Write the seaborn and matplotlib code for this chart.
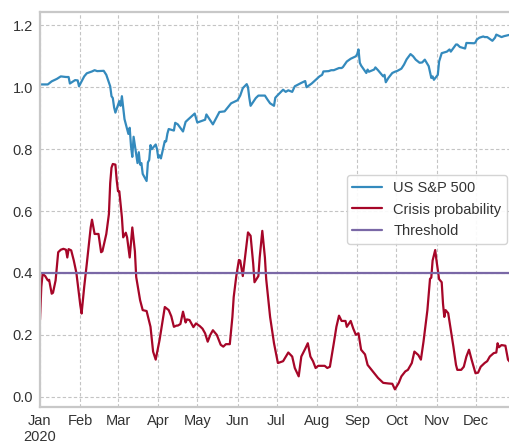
import pandas as pd
import numpy as np
import matplotlib
matplotlib.use("Agg")
import matplotlib.pyplot as plt
import matplotlib.dates as mdates
import seaborn as sns

# ---------------- data ----------------
sp_dates = [
    "2020-01-02", "2020-01-07", "2020-01-10", "2020-01-14", "2020-01-17", "2020-01-21",
    "2020-01-23", "2020-01-24", "2020-01-28", "2020-01-30", "2020-01-31", "2020-02-04",
    "2020-02-06", "2020-02-10", "2020-02-12", "2020-02-14", "2020-02-19", "2020-02-21",
    "2020-02-24", "2020-02-25", "2020-02-26", "2020-02-27", "2020-02-28", "2020-03-02",
    "2020-03-03", "2020-03-04", "2020-03-05", "2020-03-06", "2020-03-09", "2020-03-10",
    "2020-03-11", "2020-03-12", "2020-03-13", "2020-03-16", "2020-03-17", "2020-03-18",
    "2020-03-19", "2020-03-20", "2020-03-23", "2020-03-24", "2020-03-25", "2020-03-26",
    "2020-03-27", "2020-03-30", "2020-03-31", "2020-04-01", "2020-04-02", "2020-04-03",
    "2020-04-06", "2020-04-07", "2020-04-08", "2020-04-09", "2020-04-13", "2020-04-14",
    "2020-04-16", "2020-04-20", "2020-04-22", "2020-04-24", "2020-04-29", "2020-05-01",
    "2020-05-07", "2020-05-08", "2020-05-13", "2020-05-18", "2020-05-22", "2020-05-27",
    "2020-06-01", "2020-06-03", "2020-06-05", "2020-06-08", "2020-06-09", "2020-06-10",
    "2020-06-11", "2020-06-15", "2020-06-17", "2020-06-22", "2020-06-24", "2020-06-26",
    "2020-06-29", "2020-06-30", "2020-07-02", "2020-07-06", "2020-07-08", "2020-07-10",
    "2020-07-13", "2020-07-15", "2020-07-20", "2020-07-23", "2020-07-24", "2020-07-28",
    "2020-08-03", "2020-08-05", "2020-08-06", "2020-08-10", "2020-08-12", "2020-08-14",
    "2020-08-18", "2020-08-20", "2020-08-21", "2020-08-24", "2020-08-27", "2020-08-31",
    "2020-09-01", "2020-09-02", "2020-09-03", "2020-09-04", "2020-09-08", "2020-09-09",
    "2020-09-10", "2020-09-14", "2020-09-15", "2020-09-17", "2020-09-21", "2020-09-22",
    "2020-09-23", "2020-09-25", "2020-09-28", "2020-09-30", "2020-10-02", "2020-10-05",
    "2020-10-07", "2020-10-09", "2020-10-12", "2020-10-14", "2020-10-16", "2020-10-19",
    "2020-10-21", "2020-10-23", "2020-10-26", "2020-10-28", "2020-10-29", "2020-10-30",
    "2020-11-02", "2020-11-03", "2020-11-05", "2020-11-09", "2020-11-11", "2020-11-12",
    "2020-11-16", "2020-11-17", "2020-11-19", "2020-11-23", "2020-11-24", "2020-11-30",
    "2020-12-01", "2020-12-02", "2020-12-04", "2020-12-07", "2020-12-08", "2020-12-10",
    "2020-12-14", "2020-12-16", "2020-12-17", "2020-12-21", "2020-12-23", "2020-12-28",
    "2020-12-31",
]
sp_values = [
    1.009, 1.009, 1.019, 1.027, 1.035, 1.033,
    1.033, 1.012, 1.023, 1.022, 1.003, 1.035,
    1.045, 1.051, 1.055, 1.052, 1.053, 1.040,
    1.003, 0.971, 0.965, 0.935, 0.918, 0.955,
    0.940, 0.971, 0.934, 0.897, 0.849, 0.869,
    0.810, 0.775, 0.840, 0.755, 0.790, 0.750,
    0.755, 0.720, 0.697, 0.757, 0.765, 0.813,
    0.800, 0.815, 0.800, 0.772, 0.780, 0.770,
    0.826, 0.825, 0.850, 0.865, 0.860, 0.885,
    0.880, 0.857, 0.888, 0.896, 0.915, 0.886,
    0.895, 0.912, 0.880, 0.920, 0.922, 0.948,
    0.958, 0.973, 0.997, 1.010, 1.000, 0.966,
    0.940, 0.965, 0.973, 0.973, 0.960, 0.948,
    0.940, 0.966, 0.975, 0.992, 0.985, 0.990,
    0.985, 1.003, 1.014, 1.020, 1.000, 1.012,
    1.035, 1.040, 1.051, 1.052, 1.055, 1.055,
    1.062, 1.062, 1.065, 1.083, 1.092, 1.100,
    1.107, 1.122, 1.079, 1.070, 1.046, 1.057,
    1.050, 1.057, 1.064, 1.055, 1.035, 1.040,
    1.016, 1.030, 1.046, 1.050, 1.053, 1.060,
    1.073, 1.090, 1.107, 1.100, 1.089, 1.079,
    1.080, 1.089, 1.068, 1.030, 1.035, 1.024,
    1.040, 1.083, 1.110, 1.115, 1.122, 1.115,
    1.138, 1.138, 1.130, 1.125, 1.143, 1.142,
    1.145, 1.154, 1.160, 1.164, 1.162, 1.162,
    1.150, 1.160, 1.170, 1.162, 1.165, 1.170,
    1.172,
]

crisis_dates = [
    "2020-01-01", "2020-01-02", "2020-01-03", "2020-01-05", "2020-01-07", "2020-01-08",
    "2020-01-10", "2020-01-11", "2020-01-13", "2020-01-15", "2020-01-17", "2020-01-19",
    "2020-01-21", "2020-01-22", "2020-01-23", "2020-01-25", "2020-01-27", "2020-01-29",
    "2020-02-01", "2020-02-02", "2020-02-04", "2020-02-06", "2020-02-09", "2020-02-10",
    "2020-02-12", "2020-02-15", "2020-02-17", "2020-02-18", "2020-02-21", "2020-02-23",
    "2020-02-24", "2020-02-25", "2020-02-26", "2020-02-28", "2020-02-29", "2020-03-01",
    "2020-03-02", "2020-03-04", "2020-03-05", "2020-03-07", "2020-03-08", "2020-03-10",
    "2020-03-12", "2020-03-14", "2020-03-15", "2020-03-18", "2020-03-20", "2020-03-23",
    "2020-03-26", "2020-03-28", "2020-03-30", "2020-04-02", "2020-04-06", "2020-04-09",
    "2020-04-11", "2020-04-13", "2020-04-15", "2020-04-16", "2020-04-18", "2020-04-20",
    "2020-04-22", "2020-04-23", "2020-04-25", "2020-04-28", "2020-04-30", "2020-05-03",
    "2020-05-05", "2020-05-07", "2020-05-09", "2020-05-11", "2020-05-13", "2020-05-16",
    "2020-05-19", "2020-05-21", "2020-05-23", "2020-05-26", "2020-05-28", "2020-05-29",
    "2020-05-31", "2020-06-02", "2020-06-03", "2020-06-05", "2020-06-07", "2020-06-09",
    "2020-06-11", "2020-06-13", "2020-06-14", "2020-06-17", "2020-06-18", "2020-06-20",
    "2020-06-22", "2020-06-23", "2020-06-26", "2020-06-29", "2020-07-02", "2020-07-06",
    "2020-07-10", "2020-07-13", "2020-07-15", "2020-07-18", "2020-07-20", "2020-07-23",
    "2020-07-25", "2020-07-27", "2020-07-29", "2020-07-31", "2020-08-02", "2020-08-05",
    "2020-08-07", "2020-08-09", "2020-08-11", "2020-08-14", "2020-08-16", "2020-08-18",
    "2020-08-20", "2020-08-23", "2020-08-24", "2020-08-27", "2020-08-29", "2020-08-31",
    "2020-09-02", "2020-09-04", "2020-09-07", "2020-09-09", "2020-09-13", "2020-09-17",
    "2020-09-21", "2020-09-25", "2020-09-28", "2020-09-30", "2020-10-03", "2020-10-05",
    "2020-10-08", "2020-10-10", "2020-10-13", "2020-10-15", "2020-10-18", "2020-10-20",
    "2020-10-22", "2020-10-25", "2020-10-27", "2020-10-28", "2020-10-29", "2020-10-31",
    "2020-11-01", "2020-11-03", "2020-11-05", "2020-11-06", "2020-11-07", "2020-11-08",
    "2020-11-10", "2020-11-12", "2020-11-14", "2020-11-16", "2020-11-17", "2020-11-20",
    "2020-11-22", "2020-11-24", "2020-11-26", "2020-11-28", "2020-12-01", "2020-12-03",
    "2020-12-05", "2020-12-08", "2020-12-10", "2020-12-12", "2020-12-15", "2020-12-17",
    "2020-12-18", "2020-12-19", "2020-12-21", "2020-12-24", "2020-12-26", "2020-12-28",
]
crisis_values = [
    0.248, 0.355, 0.397, 0.390, 0.376, 0.378,
    0.333, 0.336, 0.376, 0.467, 0.475, 0.478,
    0.475, 0.450, 0.477, 0.473, 0.440, 0.400,
    0.296, 0.269, 0.355, 0.430, 0.547, 0.572,
    0.526, 0.526, 0.467, 0.470, 0.526, 0.590,
    0.690, 0.740, 0.752, 0.750, 0.700, 0.664,
    0.664, 0.580, 0.515, 0.530, 0.515, 0.450,
    0.547, 0.470, 0.387, 0.312, 0.280, 0.277,
    0.226, 0.146, 0.120, 0.184, 0.290, 0.280,
    0.260, 0.226, 0.230, 0.230, 0.235, 0.275,
    0.240, 0.250, 0.248, 0.225, 0.237, 0.228,
    0.220, 0.205, 0.178, 0.200, 0.215, 0.200,
    0.168, 0.162, 0.170, 0.170, 0.258, 0.322,
    0.390, 0.442, 0.440, 0.390, 0.460, 0.531,
    0.520, 0.430, 0.370, 0.390, 0.450, 0.536,
    0.450, 0.380, 0.258, 0.173, 0.109, 0.115,
    0.143, 0.130, 0.093, 0.066, 0.130, 0.155,
    0.173, 0.130, 0.115, 0.093, 0.100, 0.100,
    0.100, 0.093, 0.097, 0.173, 0.226, 0.262,
    0.245, 0.245, 0.226, 0.245, 0.220, 0.200,
    0.205, 0.152, 0.137, 0.103, 0.082, 0.061,
    0.045, 0.043, 0.042, 0.024, 0.045, 0.066,
    0.082, 0.087, 0.109, 0.146, 0.135, 0.120,
    0.178, 0.280, 0.381, 0.385, 0.440, 0.474,
    0.440, 0.380, 0.370, 0.301, 0.258, 0.280,
    0.270, 0.216, 0.162, 0.103, 0.087, 0.087,
    0.097, 0.130, 0.152, 0.120, 0.076, 0.078,
    0.097, 0.109, 0.115, 0.130, 0.141, 0.143,
    0.173, 0.160, 0.167, 0.165, 0.120, 0.110,
]

threshold = 0.4
y_ticks = [0.0, 0.2, 0.4, 0.6, 0.8, 1.0, 1.2]
month_labels = ["Jan\n2020", "Feb", "Mar", "Apr", "May", "Jun",
                "Jul", "Aug", "Sep", "Oct", "Nov", "Dec"]

# ---------------- styling ----------------
sns.set_style("whitegrid")
plt.rcParams["font.family"] = ["Liberation Sans", "DejaVu Sans"]

BLUE, RED, PURPLE = "#348ABD", "#A60628", "#7A68A6"

sp_df = pd.DataFrame({"date": pd.to_datetime(sp_dates), "value": sp_values})
cr_df = pd.DataFrame({"date": pd.to_datetime(crisis_dates), "value": crisis_values})

fig = plt.figure(figsize=(5.09, 4.45), dpi=100)
W, H = 509, 445
ax = fig.add_axes([40 / W, (H - 407) / H, 474.5 / W, (407 - 12) / H])

sns.lineplot(data=sp_df, x="date", y="value", ax=ax, color=BLUE, lw=1.6,
             label="US S&P 500")
sns.lineplot(data=cr_df, x="date", y="value", ax=ax, color=RED, lw=1.6,
             label="Crisis probability")
ax.axhline(threshold, color=PURPLE, lw=1.6, label="Threshold")

ax.set_xlim(pd.Timestamp("2020-01-01"), pd.Timestamp("2020-12-31"))
ax.set_ylim(-0.033, 1.243)
ax.set_yticks(y_ticks)
ax.set_yticklabels([f"{t:.1f}" for t in y_ticks])

month_starts = pd.date_range("2020-01-01", periods=12, freq="MS")
ax.set_xticks(month_starts)
ax.set_xticklabels(month_labels)
ax.set_xlabel("")
ax.set_ylabel("")

ax.tick_params(axis="both", labelsize=10.5, colors="#333333", length=0, pad=5)
ax.grid(True, color="#c4c4c4", linestyle=(0, (3, 2)), linewidth=0.8)
for side in ["left", "bottom", "top", "right"]:
    ax.spines[side].set_color("#c8c8c8")
    ax.spines[side].set_linewidth(1.6)

leg = ax.legend(loc="center right", fontsize=10.5, frameon=True, framealpha=0.9,
                facecolor="white", edgecolor="#d0d0d0", fancybox=True)
for t in leg.get_texts():
    t.set_color("#333333")

fig.savefig("out.png", dpi=100)
